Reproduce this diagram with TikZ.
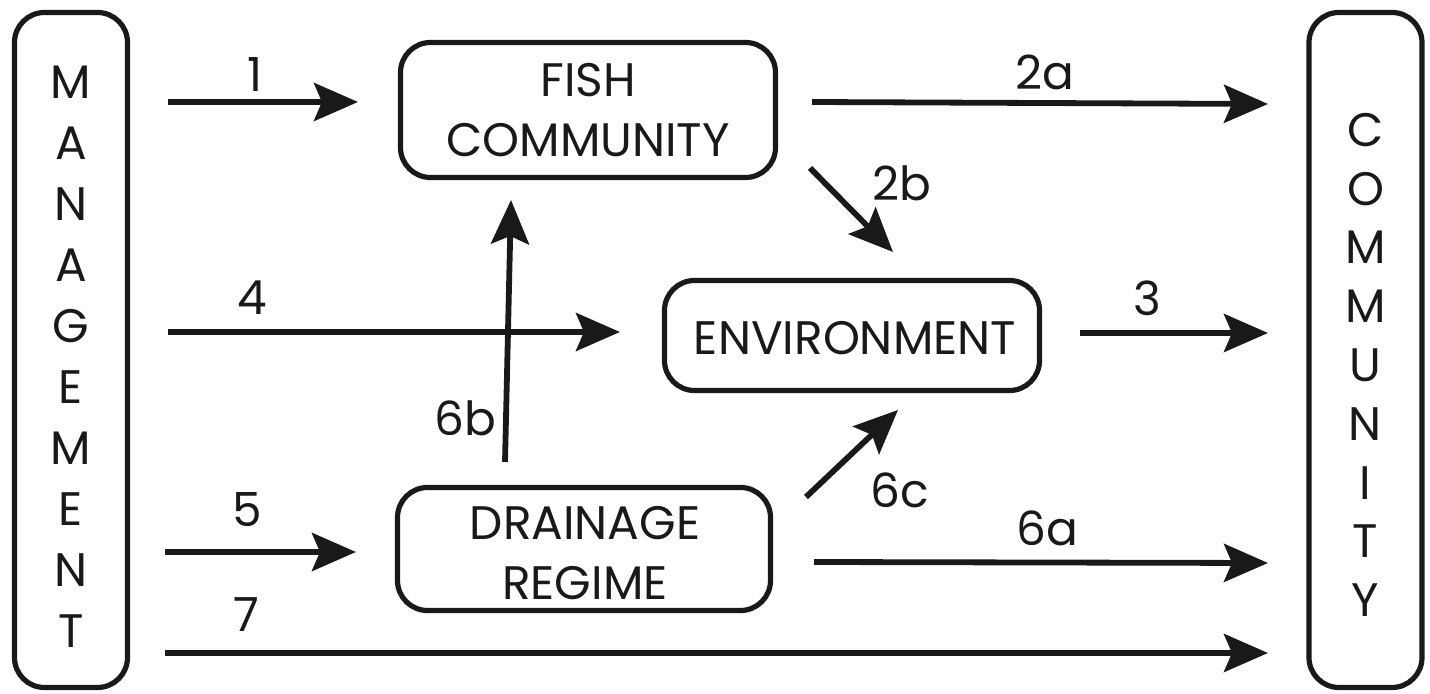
\documentclass[tikz,border=0pt]{standalone}
\usepackage{fontspec}
\setmainfont{Poppins}
\usetikzlibrary{arrows.meta}
\begin{document}
\begin{tikzpicture}[x=0.5pt,y=-0.5pt,
  box/.style={draw=black!90, line width=2.6pt, rounded corners=15pt, inner sep=0pt},
  txt/.style={font=\fontsize{23.5}{26}\selectfont, inner sep=0pt, text=black!90},
  arr/.style={line width=2.9pt, draw=black!90, -{Stealth[length=22pt,width=19pt,inset=4pt]}},
  lbl/.style={font=\fontsize{23.5}{26}\selectfont, inner sep=0pt, text=black!90}]
\useasboundingbox (0,0) rectangle (1430,694);
% side boxes
\node[box, minimum width=56.5pt, minimum height=337.5pt] (mg) at (71,350) {};
\node[txt, align=center, font=\fontsize{23.5}{30.5}\selectfont] (mgt) at (71,357) {M\\A\\N\\A\\G\\E\\M\\E\\N\\T};
\node[box, minimum width=56.5pt, minimum height=337.5pt] (cm) at (1365.5,350) {};
\node[txt, align=center, font=\fontsize{23.5}{29.4}\selectfont] (cmt) at (1365.5,365) {C\\O\\M\\M\\U\\N\\I\\T\\Y};
% inner boxes
\node[box, minimum width=187.5pt, minimum height=67.5pt] (fish) at (588,110) {};
\node[txt, align=center, font=\fontsize{23.5}{30}\selectfont] (fisht) at (588,110) {FISH\\COMMUNITY};
\node[box, minimum width=187.5pt, minimum height=55pt] (env) at (852,335.5) {};
\node[txt] (envt) at (855,338) {ENVIRONMENT};
\node[box, minimum width=186.5pt, minimum height=61.5pt] (dr) at (584,549) {};
\node[txt, align=center, font=\fontsize{23.5}{30}\selectfont] (drt) at (585,553) {DRAINAGE\\REGIME};
% arrow endpoints
\coordinate (a1s) at (168,102);  \coordinate (a1e) at (358,102);
\coordinate (a2as) at (812,102); \coordinate (a2ae) at (1268,104);
\coordinate (a2bs) at (810,168); \coordinate (a2be) at (893,252);
\coordinate (a4s) at (168,332);  \coordinate (a4e) at (620,332);
\coordinate (a3s) at (1080,333); \coordinate (a3e) at (1268,333);
\coordinate (a6bs) at (505,462); \coordinate (a6be) at (511,200);
\coordinate (a6cs) at (806,497); \coordinate (a6ce) at (898,410);
\coordinate (a5s) at (165,552);  \coordinate (a5e) at (356,552);
\coordinate (a6as) at (814,562); \coordinate (a6ae) at (1268,563);
\coordinate (a7s) at (165,653);  \coordinate (a7e) at (1268,653);
\draw[arr] (a1s) -- (a1e);
\draw[arr] (a2as) -- (a2ae);
\draw[arr] (a2bs) -- (a2be);
\draw[arr] (a4s) -- (a4e);
\draw[arr] (a3s) -- (a3e);
\draw[arr] (a6bs) -- (a6be);
\draw[arr] (a6cs) -- (a6ce);
\draw[arr] (a5s) -- (a5e);
\draw[arr] (a6as) -- (a6ae);
\draw[arr] (a7s) -- (a7e);
% labels
\node[lbl] (l1) at (255,75) {1};
\node[lbl] (l2a) at (1045,72) {2a};
\node[lbl] (l2b) at (902,183) {2b};
\node[lbl] (l4) at (252,298) {4};
\node[lbl] (l3) at (1147,298) {3};
\node[lbl] (l6b) at (465,418) {6b};
\node[lbl] (l6c) at (900,490) {6c};
\node[lbl] (l5) at (247,510) {5};
\node[lbl] (l6a) at (1047,528) {6a};
\node[lbl] (l7) at (246,615) {7};
\end{tikzpicture}
\end{document}
